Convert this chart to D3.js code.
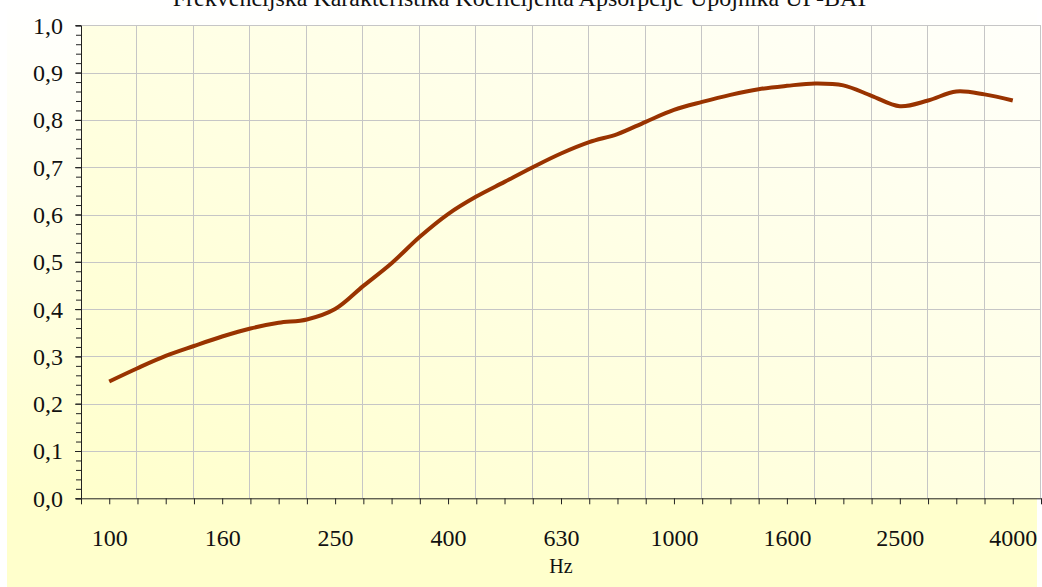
<!DOCTYPE html>
<html lang="hr">
<head>
    <meta charset="UTF-8">
    <title>Frekvencijska Karakteristika Koeficijenta Apsorpcije</title>
    <script src="https://cdnjs.cloudflare.com/ajax/libs/d3/7.8.5/d3.min.js"></script>
    <style>
        body {
            margin: 0;
            background: #ffffff;
        }
        svg text {
            font-family: 'Liberation Serif', 'DejaVu Serif', serif;
            fill: #111;
        }
        .domain {
            stroke: #222;
        }
    </style>
</head>
<body>
    <svg id="chart" width="1042" height="587"></svg>

    <script>
        // 1/6-oktavne frekvencije (Hz) i izmjereni koeficijent apsorpcije
        const freqs = ["100", "112", "125", "140", "160", "180", "200", "224", "250", "280", "315",
                       "355", "400", "450", "500", "560", "630", "710", "800", "900", "1000",
                       "1120", "1250", "1400", "1600", "1800", "2000", "2240", "2500", "2800",
                       "3150", "3550", "4000"];
        const alpha = [0.247, 0.275, 0.301, 0.322, 0.342, 0.359, 0.371, 0.378, 0.400, 0.449, 0.497,
                       0.553, 0.601, 0.638, 0.669, 0.700, 0.729, 0.753, 0.770, 0.796, 0.821,
                       0.838, 0.853, 0.865, 0.872, 0.877, 0.873, 0.851, 0.829, 0.841,
                       0.860, 0.854, 0.841];
        const xLabels = ["100", "160", "250", "400", "630", "1000", "1600", "2500", "4000"];
        const yMajor = [0, 0.1, 0.2, 0.3, 0.4, 0.5, 0.6, 0.7, 0.8, 0.9, 1.0];
        const titleText = "Frekvencijska Karakteristika Koeficijenta Apsorpcije Upojnika UP-BAT";
        const xTitle = "Hz";

        const plot = { left: 81, right: 1041, top: 25.3, bottom: 498.3 };

        const svg = d3.select("#chart");
        const defs = svg.append("defs");

        const outerGrad = defs.append("linearGradient")
            .attr("id", "outerBg")
            .attr("x1", 0).attr("y1", 0).attr("x2", 0).attr("y2", 1);
        outerGrad.append("stop").attr("offset", "0%").attr("stop-color", "#ffffff");
        outerGrad.append("stop").attr("offset", "85%").attr("stop-color", "#ffffcc");

        const plotGrad = defs.append("linearGradient")
            .attr("id", "plotBg")
            .attr("x1", 0).attr("y1", 1).attr("x2", 1).attr("y2", 0);
        plotGrad.append("stop").attr("offset", "0%").attr("stop-color", "#ffffcc");
        plotGrad.append("stop").attr("offset", "100%").attr("stop-color", "#fffffa");

        // pozadina grafikona
        svg.append("rect")
            .attr("x", 7).attr("y", 0)
            .attr("width", 1030).attr("height", 587)
            .attr("fill", "url(#outerBg)");

        svg.append("rect")
            .attr("x", plot.left).attr("y", plot.top)
            .attr("width", plot.right - plot.left).attr("height", plot.bottom - plot.top)
            .attr("fill", "url(#plotBg)");

        const data = freqs.map((f, i) => ({ f: f, v: alpha[i] }));

        const x = d3.scalePoint()
            .domain(freqs)
            .range([plot.left, plot.right])
            .padding(1);

        // indeks pozicija za kvačice i mrežu (uključuje rubove)
        const xi = d3.scaleLinear()
            .domain([0, freqs.length + 1])
            .range([plot.left, plot.right]);

        const y = d3.scaleLinear()
            .domain([0, 1])
            .range([plot.bottom, plot.top]);

        const comma = v => d3.format(".1f")(v).replace(".", ",");

        // mreža
        const grid = svg.append("g").attr("stroke", "#c6c6c6").attr("stroke-width", 1);
        grid.selectAll(".hgrid")
            .data(yMajor.filter(v => v > 0))
            .enter().append("line")
            .attr("x1", plot.left).attr("x2", plot.right)
            .attr("y1", d => Math.round(y(d)) + 0.5)
            .attr("y2", d => Math.round(y(d)) + 0.5);
        grid.selectAll(".vgrid")
            .data(d3.range(2, freqs.length + 2, 2))
            .enter().append("line")
            .attr("y1", plot.top).attr("y2", plot.bottom)
            .attr("x1", d => Math.round(xi(d)) - 0.5)
            .attr("x2", d => Math.round(xi(d)) - 0.5);

        // krivulja
        const line = d3.line()
            .x(d => x(d.f))
            .y(d => y(d.v))
            .curve(d3.curveCatmullRom.alpha(0.5));

        svg.append("path")
            .datum(data)
            .attr("fill", "none")
            .attr("stroke", "#993300")
            .attr("stroke-width", 4)
            .attr("stroke-linejoin", "round")
            .attr("d", line);

        // os Y
        svg.append("g")
            .attr("transform", `translate(${plot.left},0)`)
            .call(d3.axisLeft(y).tickValues(d3.range(0, 1.001, 0.02)).tickSize(5).tickFormat(""))
            .call(g => g.selectAll(".tick line").attr("stroke", "#222"));

        svg.append("g")
            .attr("transform", `translate(${plot.left},0)`)
            .call(d3.axisLeft(y).tickValues(yMajor).tickSize(6).tickPadding(12).tickFormat(comma))
            .call(g => g.select(".domain").remove())
            .call(g => g.selectAll(".tick line").attr("stroke", "#222"))
            .call(g => g.selectAll("text").attr("font-size", "24px").attr("dy", "0.33em"));

        // os X
        svg.append("g")
            .attr("transform", `translate(0,${plot.bottom})`)
            .call(d3.axisBottom(xi).tickValues(d3.range(0, freqs.length + 2)).tickSize(6).tickFormat("").tickSizeOuter(0))
            .call(g => g.selectAll(".tick line").attr("stroke", "#222"));

        svg.append("g")
            .attr("transform", `translate(0,${plot.bottom})`)
            .call(d3.axisBottom(x).tickValues(xLabels).tickSize(0))
            .call(g => g.select(".domain").remove())
            .call(g => g.selectAll("text")
                .attr("font-size", "24px")
                .attr("y", 48)
                .attr("dy", 0));

        svg.append("text")
            .attr("x", (plot.left + plot.right) / 2)
            .attr("y", 573)
            .attr("text-anchor", "middle")
            .attr("font-size", "20px")
            .text(xTitle);

        // naslov je u izvorniku odrezan na gornjem rubu
        svg.append("text")
            .attr("x", 521)
            .attr("y", 6)
            .attr("text-anchor", "middle")
            .attr("font-size", "24px")
            .text(titleText);
    </script>
</body>
</html>
